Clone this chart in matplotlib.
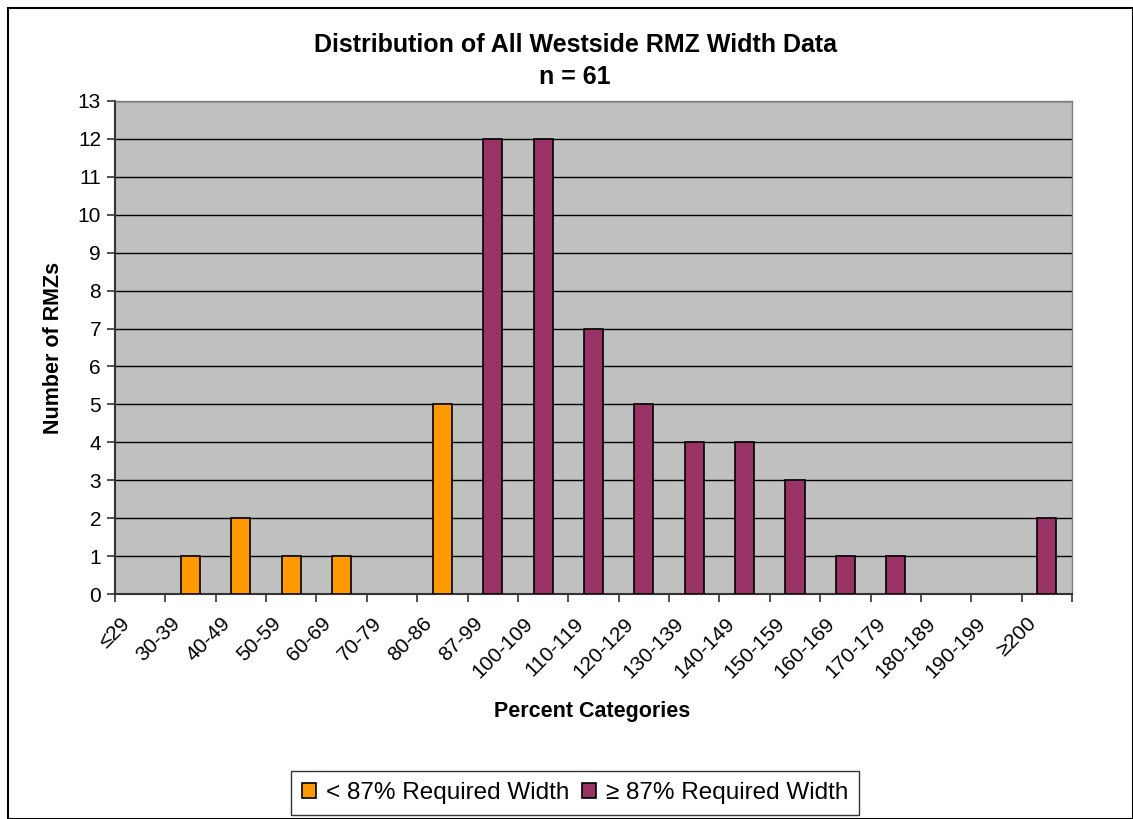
import numpy as np
import matplotlib
matplotlib.use("Agg")
import matplotlib.pyplot as plt
import matplotlib.transforms as mtransforms
from matplotlib.patches import Rectangle

# data
categories = ["≤29", "30-39", "40-49", "50-59", "60-69", "70-79", "80-86",
              "87-99", "100-109", "110-119", "120-129", "130-139", "140-149",
              "150-159", "160-169", "170-179", "180-189", "190-199", "≥200"]
below_87 = [0, 1, 2, 1, 1, 0, 5, 0, 0, 0, 0, 0, 0, 0, 0, 0, 0, 0, 0]
above_87 = [0, 0, 0, 0, 0, 0, 0, 12, 12, 7, 5, 4, 4, 3, 1, 1, 0, 0, 2]
series_names = ["< 87% Required Width", "≥ 87% Required Width"]

color_below = "#FF9900"
color_above = "#993366"

plt.rcParams["font.family"] = ["Liberation Sans", "DejaVu Sans"]

fig = plt.figure(figsize=(11.33, 8.19), dpi=100)
ax = fig.add_axes([115 / 1133, 1 - 594 / 819, 957 / 1133, 493 / 819])

x = np.arange(len(categories))
w = 0.38
# zero counts are not drawn (Excel shows nothing for them)
b = np.array(below_87)
a = np.array(above_87)
ax.bar(x[b > 0], b[b > 0], width=w, color=color_below, edgecolor="black",
       linewidth=1.2, label=series_names[0], zorder=3)
ax.bar(x[a > 0], a[a > 0], width=w, color=color_above, edgecolor="black",
       linewidth=1.2, label=series_names[1], zorder=3)

ax.set_facecolor("#C0C0C0")
ax.set_xlim(-0.5, len(categories) - 0.5)
ax.set_ylim(0, 13)
ax.set_yticks(range(0, 14))
ax.yaxis.grid(True, color="black", linewidth=1.0, zorder=1)
ax.set_axisbelow(True)

# x ticks: marks on category boundaries, labels drawn by hand at centres
ax.set_xticks(np.arange(-0.5, len(categories)))
ax.set_xticklabels([])
ax.tick_params(axis="x", length=6, width=1.2, color="#333333")
ax.tick_params(axis="y", length=6, width=1.2, color="#333333", labelsize=15, pad=4)

offset = mtransforms.ScaledTranslation(-20 / 100, -20 / 100, fig.dpi_scale_trans)
for xi, cat in zip(x, categories):
    ax.text(xi, 0, cat, transform=ax.get_xaxis_transform() + offset,
            rotation=45, ha="right", va="top", rotation_mode="anchor",
            fontsize=15, clip_on=False)

for side in ["left", "bottom"]:
    ax.spines[side].set_color("#333333")
    ax.spines[side].set_linewidth(1.5)
for side in ["top", "right"]:
    ax.spines[side].set_color("#808080")
    ax.spines[side].set_linewidth(1.0)

ax.set_ylabel("Number of RMZs", fontsize=15.5, fontweight="bold", labelpad=10)
fig.text(592 / 1133, 1 - 712 / 819, "Percent Categories",
         ha="center", va="center", fontsize=15.5, fontweight="bold")

fig.text(575 / 1133, 1 - 45 / 819, "Distribution of All Westside RMZ Width Data",
         ha="center", va="center", fontsize=18, fontweight="bold")
fig.text(575 / 1133, 1 - 77 / 819, "n = 61",
         ha="center", va="center", fontsize=18, fontweight="bold")

leg = fig.legend(loc="center", bbox_to_anchor=(575 / 1133, 1 - 793 / 819), ncol=2,
                 fontsize=17.5, frameon=True, fancybox=False, edgecolor="black",
                 handlelength=0.6, handleheight=0.6, handletextpad=0.4,
                 columnspacing=0.5, borderpad=0.45)
leg.get_frame().set_linewidth(1.0)

# outer border
fig.patches.append(Rectangle((8 / 1133, 0), 1 - 8 / 1133, 1 - 8 / 819,
                             transform=fig.transFigure, fill=False,
                             edgecolor="black", linewidth=1.5))

fig.savefig("out.png", dpi=100)
